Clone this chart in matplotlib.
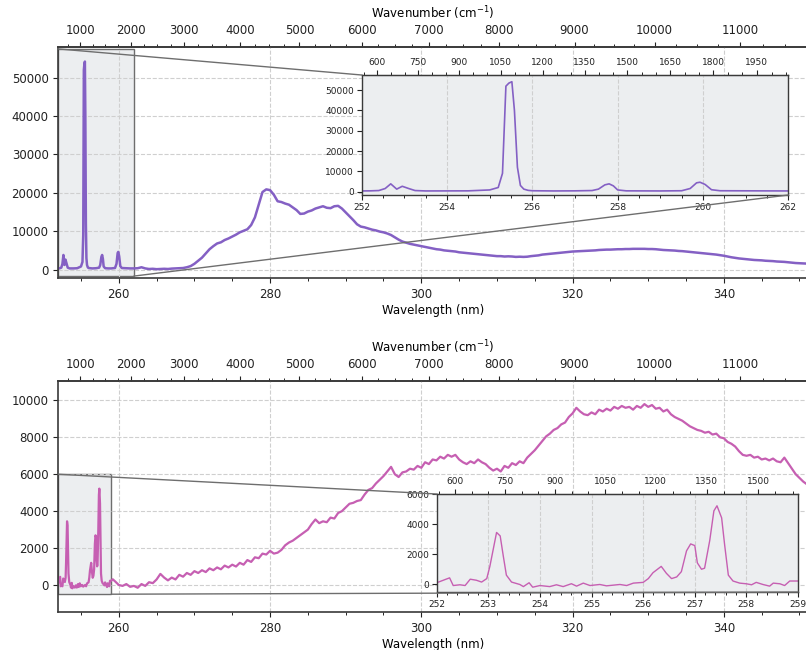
import numpy as np
import matplotlib
matplotlib.use("Agg")
import matplotlib.pyplot as plt
from matplotlib.patches import Rectangle, ConnectionPatch
from matplotlib.ticker import MultipleLocator

LASER_NM = 248.6

# ---- spectrum 1 (purple) ----
top_peak_wl = [252.0, 252.2, 252.4, 252.55, 252.68, 252.82, 252.95, 253.1, 253.25, 253.5,
               254.0, 254.5, 255.0, 255.2, 255.3, 255.38, 255.45, 255.52, 255.58, 255.65,
               255.72, 255.8, 255.9, 256.0, 256.5, 257.0, 257.4, 257.55, 257.7, 257.8,
               257.9, 258.0, 258.2, 258.6, 259.0, 259.5, 259.7, 259.85, 259.93, 260.05,
               260.2, 260.4, 261.0, 261.5, 262.0]
top_peak_counts = [300, 350, 500, 1500, 3800, 1200, 2600, 1500, 500, 300,
                   300, 350, 800, 2000, 9000, 52000, 53500, 54200, 40000, 12000,
                   3000, 1200, 600, 400, 300, 350, 500, 1200, 3300, 3800,
                   2800, 800, 350, 300, 300, 400, 1500, 4300, 4600, 3500,
                   900, 400, 350, 300, 300]
# 262.5 .. 351.0 nm, 0.5 nm sampling
top_broad_counts = [
    350, 600, 300, 150, 200, 100, 150, 200, 150, 250,
    300, 350, 400, 600, 900, 1500, 2300, 3100, 4200, 5300,
    6100, 6800, 7100, 7700, 8100, 8600, 9100, 9700, 10100, 10500,
    11600, 13600, 16900, 20200, 20900, 20700, 19500, 17800, 17600, 17200,
    16900, 16200, 15500, 14500, 14600, 15100, 15400, 15900, 16200, 16500,
    16100, 16000, 16500, 16600, 15900, 14900, 13900, 12900, 11800, 11200,
    11000, 10700, 10400, 10200, 9900, 9700, 9400, 9000, 8400, 7800,
    7300, 7000, 6700, 6500, 6300, 6100, 5900, 5700, 5500, 5300,
    5200, 5000, 4900, 4800, 4700, 4500, 4400, 4300, 4200, 4100,
    4000, 3900, 3800, 3700, 3600, 3500, 3500, 3400, 3450, 3400,
    3300, 3350, 3300, 3350, 3500, 3600, 3700, 3900, 4000, 4100,
    4200, 4300, 4400, 4500, 4600, 4700, 4750, 4800, 4850, 4900,
    4950, 5000, 5100, 5150, 5200, 5200, 5250, 5300, 5300, 5350,
    5350, 5400, 5400, 5400, 5400, 5350, 5350, 5300, 5200, 5100,
    5050, 5000, 4950, 4850, 4800, 4700, 4600, 4500, 4400, 4300,
    4200, 4100, 4000, 3900, 3750, 3600, 3400, 3200, 3050, 2900,
    2800, 2700, 2600, 2500, 2450, 2400, 2300, 2250, 2200, 2100,
    2050, 2000, 1900, 1800, 1700, 1650, 1600, 1550]

# ---- spectrum 2 (pink) ----
bot_peak_wl = [252.0, 252.13, 252.25, 252.32, 252.45, 252.55, 252.65, 252.77, 252.87, 252.97,
               253.03, 253.11, 253.16, 253.23, 253.29, 253.35, 253.45, 253.61, 253.68, 253.79,
               253.86, 254.0, 254.19, 254.32, 254.45, 254.61, 254.71, 254.84, 254.97, 255.16,
               255.29, 255.55, 255.68, 255.81, 256.0, 256.1, 256.19, 256.35, 256.45, 256.55,
               256.65, 256.74, 256.84, 256.92, 257.0, 257.05, 257.13, 257.19, 257.29, 257.37,
               257.43, 257.52, 257.58, 257.65, 257.74, 257.87, 258.0, 258.1, 258.19, 258.32,
               258.45, 258.52, 258.65, 258.74, 258.84, 259.0, 259.2]
bot_peak_counts = [115, 280, 440, -70, -20, -70, 350, 280, 160, 390,
                   1200, 2580, 3450, 3220, 1890, 620, 160, 0, -140, 115,
                   -180, -70, -140, -20, -140, 50, -110, 90, -70, 0,
                   -90, 0, -70, 90, 140, 390, 780, 1200, 740, 390,
                   500, 850, 2230, 2690, 2580, 1430, 1010, 1080, 2920, 4880,
                   5220, 4420, 2580, 620, 230, 90, 46, -20, 140, 0,
                   -110, 90, 46, -70, 230, 230, 310]
# 259.5 .. 351.0 nm, 0.5 nm sampling
bot_broad_counts = [
    200, 0, -50, 50, -100, -50, -150, 50, -50, 150,
    100, 300, 600, 400, 250, 400, 300, 550, 450, 650,
    550, 750, 650, 800, 700, 900, 800, 950, 850, 1050,
    950, 1100, 1000, 1200, 1100, 1350, 1250, 1500, 1450, 1700,
    1650, 1850, 1700, 1750, 1900, 2150, 2300, 2400, 2550, 2700,
    2850, 3000, 3300, 3550, 3350, 3450, 3400, 3650, 3600, 3900,
    4000, 4200, 4400, 4450, 4550, 4600, 4900, 5150, 5250, 5500,
    5700, 5900, 6150, 6400, 6000, 5850, 6100, 6150, 6300, 6250,
    6450, 6350, 6650, 6550, 6800, 6750, 6950, 6850, 7050, 6950,
    7050, 6800, 6650, 6550, 6700, 6600, 6800, 6650, 6550, 6350,
    6200, 6300, 6150, 6450, 6350, 6600, 6500, 6700, 6600, 6900,
    7100, 7300, 7550, 7800, 8050, 8200, 8400, 8500, 8700, 8800,
    9100, 9300, 9600, 9400, 9250, 9200, 9350, 9250, 9500, 9400,
    9550, 9450, 9650, 9550, 9700, 9600, 9650, 9500, 9700, 9600,
    9800, 9650, 9750, 9550, 9600, 9400, 9500, 9250, 9100, 9000,
    8900, 8750, 8600, 8500, 8400, 8350, 8250, 8300, 8150, 8200,
    8000, 7950, 7750, 7650, 7500, 7250, 7050, 7000, 7050, 6900,
    6950, 6800, 6850, 6750, 6850, 6700, 6650, 6900, 6600, 6300,
    6000, 5800, 5600, 5450]

top_wl = np.concatenate([top_peak_wl, np.linspace(262.5, 351.0, len(top_broad_counts))])
top_y = np.concatenate([top_peak_counts, top_broad_counts])
bot_wl = np.concatenate([bot_peak_wl, np.linspace(259.5, 351.0, len(bot_broad_counts))])
bot_y = np.concatenate([bot_peak_counts, bot_broad_counts])


def nm_to_cm(x):
    x = np.asarray(x, dtype=float)
    with np.errstate(divide="ignore", invalid="ignore"):
        return 1e7 / LASER_NM - 1e7 / x


def cm_to_nm(w):
    w = np.asarray(w, dtype=float)
    with np.errstate(divide="ignore", invalid="ignore"):
        return 1e7 / (1e7 / LASER_NM - w)


GRID = dict(ls="--", color="#cfcfcf", lw=0.8)
SPINE = "#3a3a3a"
INSET_BG = "#eceef0"


def style_spines(a, lw=1.2):
    for s in a.spines.values():
        s.set_color(SPINE)
        s.set_linewidth(lw)


def make_panel(fig, rect, inset_rect, wl, y, color, ylim, ymaj,
               in_xlim, in_ylim, in_xmaj, in_xmin, in_ymaj, lw_main, lw_in):
    ax = fig.add_axes(rect)
    ax.set_axisbelow(True)
    ax.plot(wl, y, color=color, lw=lw_main, zorder=2)
    ax.set_xlim(252, 351)
    ax.set_ylim(*ylim)
    ax.xaxis.set_major_locator(MultipleLocator(20))
    ax.xaxis.set_minor_locator(MultipleLocator(5))
    ax.yaxis.set_major_locator(MultipleLocator(ymaj))
    ax.grid(True, **GRID)
    ax.tick_params(labelsize=8.5, colors="#222222")
    ax.set_xlabel("Wavelength (nm)", fontsize=8.5, labelpad=2)
    style_spines(ax)

    sec = ax.secondary_xaxis("top", functions=(nm_to_cm, cm_to_nm))
    sec.xaxis.set_major_locator(MultipleLocator(1000))
    sec.xaxis.set_minor_locator(MultipleLocator(250))
    sec.tick_params(labelsize=8.5, colors="#222222")
    sec.set_xlabel("Wavenumber (cm$^{-1}$)", fontsize=8.5, labelpad=4)
    sec.spines["top"].set_color(SPINE)
    sec.spines["top"].set_linewidth(1.2)

    # zoom box on the main axes
    x0, x1 = in_xlim
    y0, y1 = in_ylim
    ax.add_patch(Rectangle((x0, y0), x1 - x0, y1 - y0, facecolor=INSET_BG,
                           edgecolor="#6e6e6e", lw=1.0, zorder=0.4))

    axins = fig.add_axes(inset_rect)
    axins.set_facecolor(INSET_BG)
    axins.plot(wl, y, color=color, lw=lw_in)
    axins.set_xlim(*in_xlim)
    axins.set_ylim(*in_ylim)
    axins.xaxis.set_major_locator(MultipleLocator(in_xmaj))
    axins.xaxis.set_minor_locator(MultipleLocator(in_xmin))
    axins.yaxis.set_major_locator(MultipleLocator(in_ymaj))
    axins.grid(True, axis="x", **GRID)
    axins.set_axisbelow(True)
    axins.tick_params(labelsize=6.5, colors="#222222", pad=2)
    style_spines(axins, 1.0)

    isec = axins.secondary_xaxis("top", functions=(nm_to_cm, cm_to_nm))
    isec.xaxis.set_major_locator(MultipleLocator(150))
    isec.xaxis.set_minor_locator(MultipleLocator(50))
    isec.tick_params(labelsize=6.5, colors="#222222", pad=2)
    isec.spines["top"].set_color(SPINE)

    for a_pt, b_pt in [((x0, y1), (0, 1)), ((x1, y0), (1, 0))]:
        con = ConnectionPatch(xyA=a_pt, coordsA=ax.transData,
                              xyB=b_pt, coordsB=axins.transAxes,
                              color="#6e6e6e", lw=1.0)
        fig.add_artist(con)
    return ax, axins


fig = plt.figure(figsize=(8.06, 6.5), dpi=100)

make_panel(fig, [0.0723, 0.5723, 0.9290, 0.3554], [0.4488, 0.700, 0.5292, 0.1846],
           top_wl, top_y, "#8460c4", (-2200, 58000), 10000,
           (252, 262), (-1700, 57500), 2, 0.5, 10000, 1.8, 1.2)

make_panel(fig, [0.0723, 0.0580, 0.9290, 0.3558], [0.5418, 0.0892, 0.4483, 0.1508],
           bot_wl, bot_y, "#c65fb2", (-1480, 11050), 2000,
           (252, 259), (-500, 6000), 1, 0.2, 2000, 1.6, 1.0)

fig.savefig("out.png", dpi=100)
